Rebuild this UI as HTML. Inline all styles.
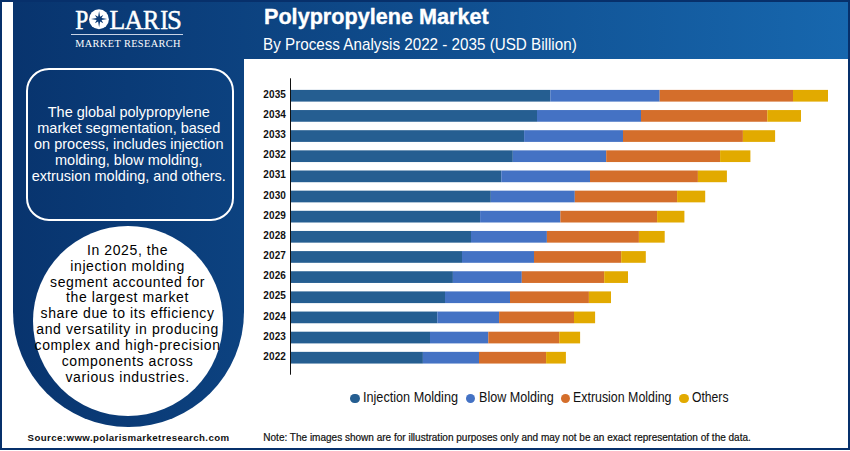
<!DOCTYPE html>
<html><head><meta charset="utf-8">
<style>
*{margin:0;padding:0;box-sizing:border-box}
html,body{width:850px;height:451px;overflow:hidden;background:#fff}
body{position:relative;font-family:"Liberation Sans",sans-serif}
.abs{position:absolute}
#frame{position:absolute;left:0;top:0;width:850px;height:450px;border:2px solid #07306b}
#hdr{position:absolute;left:13.3px;top:2px;width:834.7px;height:57px;background:linear-gradient(90deg,#08346e,#1767ae)}
#panel{position:absolute;left:13.3px;top:2px;width:230.5px;height:425.4px;background:linear-gradient(90deg,#08346e,#0c4280);border-radius:0 0 115.25px 115.25px}
#chart{position:absolute;left:243.6px;top:58.8px;width:604.4px;height:389.2px;background:#fff}
.title{position:absolute;left:263.6px;top:3.5px;color:#fff;font-weight:700;font-size:21.3px;line-height:26px;white-space:nowrap;transform:scaleX(1.015);transform-origin:0 0;-webkit-text-stroke:0.35px #fff}
.sub{position:absolute;left:263px;top:34.5px;color:#fff;font-size:17px;line-height:20px;white-space:nowrap;transform:scaleX(0.895);transform-origin:0 0}
#box{position:absolute;left:25.9px;top:67.6px;width:207.9px;height:153.4px;border:2.3px solid #fff;border-radius:23px}
.ptxt{position:absolute;left:13.5px;width:230.5px;top:105.3px;color:#fff;font-size:14.5px;line-height:15.9px;text-align:center;white-space:nowrap}
#circ{position:absolute;left:33.3px;top:225.8px;width:190px;height:190px;border-radius:50%;background:#fff}
.ctxt{position:absolute;left:12.3px;width:230.5px;top:242.6px;color:#000;font-size:14px;letter-spacing:0.6px;line-height:15.95px;text-align:center;white-space:nowrap}
.yl{position:absolute;left:250px;width:36px;text-align:right;font-size:10px;letter-spacing:0.1px;font-weight:700;color:#111;line-height:12px}
.leg{position:absolute;top:390.4px;font-size:14px;color:#111;white-space:nowrap;line-height:14px;transform-origin:0 0}
.dot{position:absolute;width:9.4px;height:9.4px;border-radius:50%;top:393.6px}
.src{position:absolute;left:27.6px;top:432px;font-size:9.7px;letter-spacing:0.4px;font-weight:700;color:#111;white-space:nowrap}
.note{position:absolute;left:263.3px;top:432.2px;font-size:10.02px;color:#111;white-space:nowrap;-webkit-text-stroke:0.2px #111}
</style></head><body>
<div id="frame"></div>
<div id="hdr"></div>
<div id="panel"></div>
<div id="chart"></div>
<div class="title">Polypropylene Market</div>
<div class="sub">By Process Analysis 2022 - 2035 (USD Billion)</div>
<svg class="abs" style="left:0;top:0" width="244" height="60" viewBox="0 0 244 60">
  <g fill="#fff">
    <text transform="translate(75.13,28.7) scale(0.872,1)" font-family="Liberation Serif" font-size="27" stroke="#fff" stroke-width="0.5">P</text><text transform="translate(109.45,28.7) scale(0.951,1)" font-family="Liberation Serif" font-size="27" stroke="#fff" stroke-width="0.5">L</text><text transform="translate(124.50,28.7) scale(0.959,1)" font-family="Liberation Serif" font-size="27" stroke="#fff" stroke-width="0.5">A</text><text transform="translate(143.00,28.7) scale(0.902,1)" font-family="Liberation Serif" font-size="27" stroke="#fff" stroke-width="0.5">R</text><text transform="translate(160.32,28.7) scale(0.875,1)" font-family="Liberation Serif" font-size="27" stroke="#fff" stroke-width="0.5">I</text><text transform="translate(167.12,28.7) scale(0.991,1)" font-family="Liberation Serif" font-size="27" stroke="#fff" stroke-width="0.5">S</text>
    <circle cx="98.95" cy="19.2" r="9.95"/>
    <polygon points="99.10,11.00 100.09,16.70 103.27,14.93 101.50,18.11 107.20,19.10 101.50,20.09 103.27,23.27 100.09,21.50 99.10,27.20 98.11,21.50 94.93,23.27 96.70,20.09 91.00,19.10 96.70,18.11 94.93,14.93 98.11,16.70" fill="#0a3975"/>
    <rect x="71" y="34" width="112" height="1" fill="#c8d3e6"/>
    <text transform="translate(75.2,46.8) scale(1.1,1)" x="0" y="0" font-family="Liberation Serif" font-size="9.4" textLength="95.8" lengthAdjust="spacing">MARKET RESEARCH</text>
  </g>
</svg>
<div id="box"></div>
<div class="ptxt">The global polypropylene<br>market segmentation, based<br>on process, includes injection<br>molding, blow molding,<br>extrusion molding, and others.</div>
<div id="circ"></div>
<div class="ctxt">In 2025, the<br>injection molding<br>segment accounted for<br>the largest market<br>share due to its efficiency<br>and versatility in producing<br>complex and high-precision<br>components across<br>various industries.</div>
<svg class="abs" style="left:0;top:0" width="850" height="451">
<rect x="291.00" y="89.90" width="259.30" height="11.7" fill="#255e91"/><rect x="550.30" y="89.90" width="109.40" height="11.7" fill="#4472c4"/><rect x="659.70" y="89.90" width="133.30" height="11.7" fill="#d46e2b"/><rect x="793.00" y="89.90" width="35.00" height="11.7" fill="#e2aa00"/><rect x="291.00" y="110.05" width="246.00" height="11.7" fill="#255e91"/><rect x="537.00" y="110.05" width="104.00" height="11.7" fill="#4472c4"/><rect x="641.00" y="110.05" width="126.30" height="11.7" fill="#d46e2b"/><rect x="767.30" y="110.05" width="33.70" height="11.7" fill="#e2aa00"/><rect x="291.00" y="130.20" width="233.10" height="11.7" fill="#255e91"/><rect x="524.10" y="130.20" width="98.90" height="11.7" fill="#4472c4"/><rect x="623.00" y="130.20" width="119.90" height="11.7" fill="#d46e2b"/><rect x="742.90" y="130.20" width="32.20" height="11.7" fill="#e2aa00"/><rect x="291.00" y="150.35" width="221.80" height="11.7" fill="#255e91"/><rect x="512.80" y="150.35" width="93.40" height="11.7" fill="#4472c4"/><rect x="606.20" y="150.35" width="113.90" height="11.7" fill="#d46e2b"/><rect x="720.10" y="150.35" width="30.30" height="11.7" fill="#e2aa00"/><rect x="291.00" y="170.50" width="210.30" height="11.7" fill="#255e91"/><rect x="501.30" y="170.50" width="88.70" height="11.7" fill="#4472c4"/><rect x="590.00" y="170.50" width="107.90" height="11.7" fill="#d46e2b"/><rect x="697.90" y="170.50" width="29.00" height="11.7" fill="#e2aa00"/><rect x="291.00" y="190.65" width="199.80" height="11.7" fill="#255e91"/><rect x="490.80" y="190.65" width="84.00" height="11.7" fill="#4472c4"/><rect x="574.80" y="190.65" width="102.30" height="11.7" fill="#d46e2b"/><rect x="677.10" y="190.65" width="28.10" height="11.7" fill="#e2aa00"/><rect x="291.00" y="210.80" width="189.10" height="11.7" fill="#255e91"/><rect x="480.10" y="210.80" width="80.30" height="11.7" fill="#4472c4"/><rect x="560.40" y="210.80" width="96.70" height="11.7" fill="#d46e2b"/><rect x="657.10" y="210.80" width="27.30" height="11.7" fill="#e2aa00"/><rect x="291.00" y="230.95" width="180.00" height="11.7" fill="#255e91"/><rect x="471.00" y="230.95" width="75.90" height="11.7" fill="#4472c4"/><rect x="546.90" y="230.95" width="92.00" height="11.7" fill="#d46e2b"/><rect x="638.90" y="230.95" width="25.80" height="11.7" fill="#e2aa00"/><rect x="291.00" y="251.10" width="171.00" height="11.7" fill="#255e91"/><rect x="462.00" y="251.10" width="72.00" height="11.7" fill="#4472c4"/><rect x="534.00" y="251.10" width="87.20" height="11.7" fill="#d46e2b"/><rect x="621.20" y="251.10" width="24.60" height="11.7" fill="#e2aa00"/><rect x="291.00" y="271.25" width="161.90" height="11.7" fill="#255e91"/><rect x="452.90" y="271.25" width="68.90" height="11.7" fill="#4472c4"/><rect x="521.80" y="271.25" width="82.40" height="11.7" fill="#d46e2b"/><rect x="604.20" y="271.25" width="23.80" height="11.7" fill="#e2aa00"/><rect x="291.00" y="291.40" width="154.00" height="11.7" fill="#255e91"/><rect x="445.00" y="291.40" width="65.00" height="11.7" fill="#4472c4"/><rect x="510.00" y="291.40" width="78.90" height="11.7" fill="#d46e2b"/><rect x="588.90" y="291.40" width="22.10" height="11.7" fill="#e2aa00"/><rect x="291.00" y="311.55" width="146.30" height="11.7" fill="#255e91"/><rect x="437.30" y="311.55" width="61.80" height="11.7" fill="#4472c4"/><rect x="499.10" y="311.55" width="74.90" height="11.7" fill="#d46e2b"/><rect x="574.00" y="311.55" width="21.10" height="11.7" fill="#e2aa00"/><rect x="291.00" y="331.70" width="139.00" height="11.7" fill="#255e91"/><rect x="430.00" y="331.70" width="58.30" height="11.7" fill="#4472c4"/><rect x="488.30" y="331.70" width="70.90" height="11.7" fill="#d46e2b"/><rect x="559.20" y="331.70" width="20.90" height="11.7" fill="#e2aa00"/><rect x="291.00" y="351.85" width="131.90" height="11.7" fill="#255e91"/><rect x="422.90" y="351.85" width="56.10" height="11.7" fill="#4472c4"/><rect x="479.00" y="351.85" width="67.10" height="11.7" fill="#d46e2b"/><rect x="546.10" y="351.85" width="19.80" height="11.7" fill="#e2aa00"/>
<rect x="290" y="78.3" width="1" height="296.4" fill="#111"/>
</svg>
<div class="yl" style="top:88.85px">2035</div><div class="yl" style="top:109.00px">2034</div><div class="yl" style="top:129.15px">2033</div><div class="yl" style="top:149.30px">2032</div><div class="yl" style="top:169.45px">2031</div><div class="yl" style="top:189.60px">2030</div><div class="yl" style="top:209.75px">2029</div><div class="yl" style="top:229.90px">2028</div><div class="yl" style="top:250.05px">2027</div><div class="yl" style="top:270.20px">2026</div><div class="yl" style="top:290.35px">2025</div><div class="yl" style="top:310.50px">2024</div><div class="yl" style="top:330.65px">2023</div><div class="yl" style="top:350.80px">2022</div>
<div class="dot" style="left:350.4px;background:#255e91"></div>
<div class="leg" style="left:363.2px;transform:scaleX(0.904)">Injection Molding</div>
<div class="dot" style="left:465.9px;background:#4472c4"></div>
<div class="leg" style="left:478.9px;transform:scaleX(0.898)">Blow Molding</div>
<div class="dot" style="left:560.5px;background:#d46e2b"></div>
<div class="leg" style="left:572.7px;transform:scaleX(0.885)">Extrusion Molding</div>
<div class="dot" style="left:679.2px;background:#e2aa00"></div>
<div class="leg" style="left:691.5px;transform:scaleX(0.868)">Others</div>
<div class="src">Source:www.polarismarketresearch.com</div>
<div class="note">Note: The images shown are for illustration purposes only and may not be an exact representation of the data.</div>
</body></html>
